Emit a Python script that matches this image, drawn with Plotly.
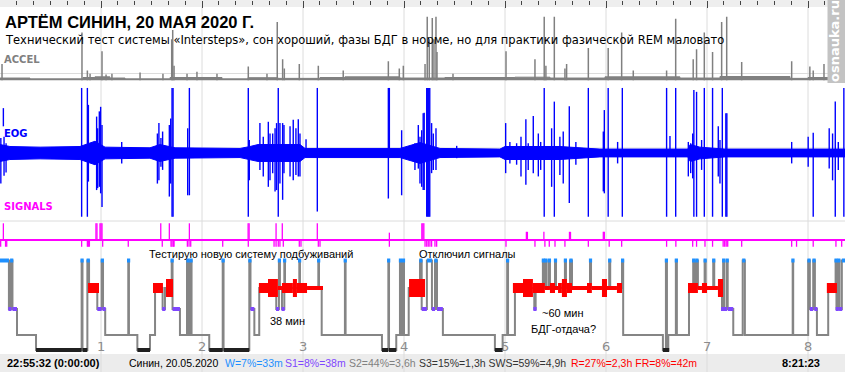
import plotly.graph_objects as go

# ======================= DATA (time in minutes from 22:55:32) =======================
hypnogram = [(0, 'W'), (5.3, 'S1'), (6.5, 'W'), (7.4, 'S1'), (10.1, 'S2'), (21.4, 'S3'), (48.5, 'W'), (49.0, 'S3'),
             (51.9, 'W'), (52.9, 'REM'), (57.8, 'S1'), (60.4, 'W'), (61.2, 'S1'), (62.5, 'S2'), (76.2, 'W'), (76.6, 'S2'),
             (81.6, 'S3'), (89.1, 'S2'), (92.1, 'REM'), (96.6, 'S1'), (98.0, 'REM'), (102.0, 'W'), (102.5, 'S1'),
             (106.9, 'S2'), (111.1, 'W'), (112.3, 'S2'), (113.2, 'W'), (113.8, 'S2'), (124.3, 'S3'), (132.3, 'W'),
             (132.8, 'S3'), (148.1, 'W'), (148.8, 'S1'), (151.1, 'S2'), (154.0, 'REM'), (164.1, 'S1'), (165.7, 'W'),
             (166.3, 'REM'), (167.5, 'S1'), (168.9, 'W'), (169.3, 'REM'), (177.8, 'W'), (178.2, 'REM'), (189.1, 'W'),
             (189.5, 'REM'), (191.1, 'S2'), (204.9, 'W'), (205.3, 'S2'), (226.9, 'S3'), (230.7, 'W'), (231.1, 'S3'),
             (235.4, 'S2'), (237.6, 'W'), (238.2, 'S2'), (239.4, 'W'), (240.0, 'S2'), (242.8, 'REM'), (249.5, 'W'),
             (250.5, 'S1'), (253.6, 'W'), (256.6, 'S1'), (258.4, 'W'), (259.6, 'S1'), (263.1, 'S2'), (294.0, 'S3'),
             (298.6, 'S2'), (301.3, 'W'), (301.8, 'S2'), (305.9, 'REM'), (317.4, 'S1'), (318.2, 'REM'), (322.5, 'W'),
             (323.1, 'REM'), (323.9, 'W'), (324.7, 'REM'), (326.1, 'W'), (326.7, 'REM'), (329.7, 'W'), (330.3, 'REM'),
             (335.6, 'W'), (336.2, 'REM'), (338.6, 'W'), (339.8, 'REM'), (350.5, 'W'), (351.1, 'REM'), (361.9, 'W'),
             (362.5, 'REM'), (369.5, 'W'), (370.2, 'S2'), (393.8, 'S3'), (395.6, 'W'), (396.2, 'S3'), (397.0, 'S2'),
             (401.5, 'W'), (402.1, 'S2'), (409.3, 'REM'), (411.8, 'W'), (412.4, 'REM'), (413.4, 'W'), (414.6, 'REM'),
             (418.6, 'W'), (419.2, 'REM'), (423.7, 'W'), (424.3, 'REM'), (428.9, 'S1'), (429.6, 'W'), (430.2, 'S1'),
             (431.7, 'W'), (432.3, 'S1'), (435.6, 'S2'), (441.2, 'W'), (442.5, 'S2'), (470.9, 'W'), (471.2, 'S2'),
             (480.1, 'W'), (481.1, 'S1'), (483.1, 'W'), (484.1, 'S1'), (485.3, 'S2'), (492.0, 'REM'), (496.4, 'W'),
             (496.9, 'S1'), (497.9, 'W'), (498.7, 'S1'), (500.1, 'W')]
record_end = 502.0

# REM intensity (start, end, level 1..3)
rem_intensity = [(52.3, 58.8, 2), (90.9, 96.8, 2), (98.6, 102.8, 3), (153.8, 159.2, 2), (159.2, 165.1, 3),
                 (165.1, 167.5, 1), (167.5, 174.0, 2), (174.0, 176.4, 3), (176.4, 182.4, 2), (182.4, 191.9, 1),
                 (243.0, 252.5, 3), (304.7, 310.7, 2), (310.7, 316.6, 3), (316.6, 323.7, 2), (323.7, 326.7, 1),
                 (326.7, 329.7, 2), (329.7, 331.5, 1), (331.5, 333.8, 2), (333.8, 336.8, 3), (336.8, 339.8, 2),
                 (339.8, 348.7, 1), (348.7, 351.6, 2), (351.6, 357.6, 1), (357.6, 360.6, 3), (360.6, 366.5, 1),
                 (366.5, 369.5, 2), (408.7, 414.6, 2), (414.6, 417.0, 1), (417.0, 420.0, 2), (420.0, 426.5, 1),
                 (426.5, 429.5, 3), (491.2, 497.2, 2)]

accel_base_t = [0, 17.8, 49.3, 56.4, 65.3, 74.3, 101.0, 131.9, 147.3, 165.1, 190.1, 204.9, 237.6, 264.3, 305.9,
                326.7, 359.4, 403.9, 427.7, 469.3, 480.0, 502.0]
accel_base_v = [3.7, 2.5, 4.5, 5.5, 3.7, 2.5, 4.5, 2.5, 4.2, 3.2, 4.5, 5.5, 3.7, 4.5, 5.0, 3.7, 5.5, 3.7, 6.0, 3.2,
                4.5, 4.5]
accel_spike_t = [1.2, 48.7, 51.9, 53.5, 60.6, 63.0, 66.5, 83.2, 96.8, 102.0, 102.6, 103.4, 111.1, 117.0, 128.9,
                 147.5, 158.6, 164.7, 167.9, 168.9, 177.8, 189.1, 203.9, 230.7, 237.2, 239.6, 252.5, 253.8, 255.0,
                 256.8, 257.8, 259.0, 259.6, 269.1, 300.6, 317.8, 323.3, 324.3, 329.3, 335.6, 336.6, 349.5, 361.3,
                 369.3, 376.2, 396.0, 401.4, 411.8, 413.8, 418.4, 423.3, 428.7, 431.7, 440.6, 470.3, 481.1, 483.1,
                 489.5]
accel_spike_v = [25, 72, 15, 10, 44, 9, 10, 12, 10, 62, 76, 22, 10, 13, 10,
                 21, 10, 88, 32, 18, 25, 22, 15, 29, 18, 22, 25, 96, 62,
                 94, 62, 96, 43, 10, 44, 32, 96, 22, 96, 18, 25, 49, 49,
                 72, 15, 15, 93, 32, 47, 72, 43, 88, 96, 28, 29, 21, 15,
                 25]

eog_env_t = [0, 5.9, 23.8, 47.5, 56.4, 62.4, 89.1, 95.0, 104.0, 142.6, 148.5, 153.3, 178.2, 181.2, 237.6, 249.5,
             261.4, 297.0, 300.0, 332.6, 356.4, 408.7, 410.0, 415.8, 430.7, 502.0]
eog_env_amp = [13, 10, 9, 10, 18, 9, 8, 13, 8, 7, 10, 13, 13, 7, 7, 16, 7, 6, 10, 10, 6, 6, 13, 9, 6, 6]

# EOG spikes: (time, upper, lower)
eog_spikes = [(0.5, 23, -47), (2.0, 69, 41), (2.4, 25, -35), (3.6, 15, -30),
              (48.5, 100, -98), (51.9, 100, -98), (52.5, 74, -44), (57.4, 56, -57), (58.0, 38, -54), (59.0, 64, -52),
              (59.8, 71, -62), (60.6, 43, -83), (72.3, 17, -16), (93.5, 30, -47), (94.4, 46, -42), (95.6, 23, -21),
              (96.6, 33, -26), (100.6, 43, -67), (101.4, 53, -47), (102.2, 100, -98), (102.8, 100, -98),
              (111.5, 38, -65), (112.5, 100, -65), (147.5, 100, -98), (148.1, 20, -42), (154.4, 46, -26),
              (156.4, 25, -36), (159.4, 48, -52), (160.4, 30, -42), (162.0, 30, -31), (163.4, 38, -59),
              (164.3, 46, -57), (165.3, 100, -98), (166.3, 46, -47), (167.9, 46, -72), (168.7, 43, -31),
              (172.3, 41, -36), (174.2, 51, -42), (175.8, 38, -34), (177.2, 52, -36), (178.2, 30, -36),
              (181.8, 21, -3), (188.5, 100, -90), (230.7, 100, -70), (231.3, 100, -6), (238.6, 35, -65),
              (246.5, 15, -26), (248.5, 43, -24),
              (249.5, 25, -47), (250.5, 35, -52), (251.4, 61, -57), (252.0, 62, -57), (253.5, 100, -98),
              (254.1, 100, -98), (254.7, 100, -98), (255.3, 100, -98), (256.4, 46, -31), (257.4, 30, -26),
              (259.0, 38, -26), (271.3, 11, -8), (300.4, 46, -31), (302.9, 17, -16), (306.9, 15, -18),
              (309.5, 25, -36), (312.4, 52, -49), (313.8, 15, -26), (316.8, 57, -31), (319.8, 30, -36),
              (321.2, 17, -26), (323.3, 100, -98), (327.7, 38, -52), (329.3, 79, -98), (332.6, 25, -34),
              (334.6, 33, -47), (338.2, 72, -77), (342.1, 17, -18), (349.5, 100, -98), (358.4, 33, -59),
              (359.0, 66, -62), (361.3, 100, -98), (366.9, 17, -16), (369.7, 100, -98), (396.0, 100, -98),
              (398.0, 26, -6), (401.4, 100, -98), (408.9, 17, -36), (410.3, 15, -31), (411.5, 30, -39),
              (412.2, 97, -98), (413.8, 94, -98), (416.8, 20, -26), (418.4, 100, -98), (423.3, 100, -98),
              (426.7, 41, -36), (427.7, 20, -47), (429.1, 100, -98), (431.2, 61, -98), (431.8, 61, -98),
              (470.3, 17, -16), (480.1, 25, -21), (483.1, 31, -98), (492.6, 38, -24), (494.6, 30, -42),
              (496.2, 79, -98), (498.0, 17, -26), (501.3, 100, -98)]

# cue signals: (time, strength)
signal_cues = [(2.0, 1), (57.0, 1), (57.6, 1), (59.4, 1), (60.0, 1), (60.6, 1), (95.5, 1), (100.6, 1), (112.5, 1),
               (147.4, 1), (148.0, 1), (164.0, 1), (167.7, 1), (188.5, 1), (231.3, 0.45), (250.6, 1), (251.2, 1),
               (251.8, 1), (312.7, 0.5), (313.3, 0.5), (323.1, 0.5), (338.3, 0.5), (338.9, 0.5), (358.4, 0.5),
               (359.0, 0.5)]
# detected-event marks below the signal baseline
signal_marks = [0.4, 3.3, 4.0, 48.5, 51.9, 52.5, 53.1, 61.0, 76.2, 96.4, 101.6, 102.2, 103.0, 103.4, 111.3, 112.3,
                113.3, 132.3, 147.5, 162.8, 164.0, 165.3, 166.3, 168.3, 177.8, 178.8, 189.1, 190.1, 231.3,
                252.5, 253.5, 254.4, 255.4, 256.4, 258.4, 259.4, 300.6, 317.8, 323.7, 326.3, 329.7, 335.6, 349.5,
                361.9, 369.3, 396.0, 401.5, 411.5, 413.8, 418.8, 423.3, 429.6, 430.5, 431.4, 432.3, 440.6, 470.3,
                473.2, 483.1, 496.6, 500.0]

hour_labels = ["1", "2", "3", "4", "5", "6", "7", "8"]

title_text = "АРТЁМ СИНИН, 20 МАЯ 2020 Г."
subtitle_text = "Технический тест системы «Intersteps», сон хороший, фазы БДГ в норме, но для практики фазической REM маловато"
start_label = "22:55:32 (0:00:00)"
end_label = "8:21:23"
stat_texts = ["Синин, 20.05.2020", "W=7%=33m", "S1=8%=38m", "S2=44%=3,6h", "S3=15%=1,3h SWS=59%=4,9h",
              "R=27%=2,3h FR=8%=42m"]
notes = ["Тестирую новую систему подбуживаний", "Отключил сигналы", "38 мин", "~60 мин", "БДГ-отдача?"]
watermark = "osnauka.ru"

# ======================= STYLE / LAYOUT =======================
W, H = 845, 372
PX_PER_MIN = 101 / 60.0


def fy(p):  # pixel row -> paper fraction
    return 1 - p / H


def fx(p):
    return p / W


C_W, C_S1, C_S2, C_S3, C_R = "#1e90ff", "#7f46ff", "#808080", "#202020", "#ff0000"
stage_y = {"W": 0.0, "REM": 1.0, "S1": 1.7636, "S2": 2.709, "S3": 3.2545}
rem_width = {1: 4, 2: 10, 3: 18}
MIN_HALF = 1.6 / PX_PER_MIN

fig = go.Figure()

# ---- hypnogram: grey step line
ht = [t for t, s in hypnogram] + [record_end]
hs = [stage_y[s] for t, s in hypnogram] + [stage_y[hypnogram[-1][1]]]
fig.add_trace(go.Scatter(x=ht, y=hs, mode="lines", line=dict(color="#858585", width=2, shape="hv"),
                         xaxis="x", yaxis="y", hoverinfo="skip"))


def bars(stage, color, width):
    xs, ys = [], []
    for i, (t, s) in enumerate(hypnogram):
        if s != stage:
            continue
        e = hypnogram[i + 1][0] if i + 1 < len(hypnogram) else record_end
        c, h = (t + e) / 2, max((e - t) / 2, MIN_HALF)
        xs += [c - h, c + h, None]
        ys += [stage_y[s], stage_y[s], None]
    fig.add_trace(go.Scatter(x=xs, y=ys, mode="lines", line=dict(color=color, width=width),
                             xaxis="x", yaxis="y", hoverinfo="skip"))


bars("S3", C_S3, 4)
bars("S1", C_S1, 4)
bars("W", C_W, 4)
for lvl in (1, 2, 3):
    xs, ys = [], []
    for a, b, l in rem_intensity:
        if l == lvl:
            xs += [a, b, None]
            ys += [stage_y["REM"], stage_y["REM"], None]
    fig.add_trace(go.Scatter(x=xs, y=ys, mode="lines", line=dict(color=C_R, width=rem_width[lvl]),
                             xaxis="x", yaxis="y", hoverinfo="skip"))

# ---- ACCEL
fig.add_trace(go.Scatter(x=accel_base_t, y=accel_base_v, mode="lines", fill="tozeroy", fillcolor="#808080",
                         line=dict(color="#808080", width=1, shape="hv"), xaxis="x", yaxis="y2", hoverinfo="skip"))
xs, ys = [], []
for t, v in zip(accel_spike_t, accel_spike_v):
    xs += [t, t, None]
    ys += [0, v, None]
fig.add_trace(go.Scatter(x=xs, y=ys, mode="lines", line=dict(color="#808080", width=1.5),
                         xaxis="x", yaxis="y2", hoverinfo="skip"))

# ---- EOG
fig.add_trace(go.Scatter(x=eog_env_t + eog_env_t[::-1], y=eog_env_amp + [-a for a in eog_env_amp[::-1]],
                         mode="lines", fill="toself", fillcolor="#0000ff", line=dict(color="#0000ff", width=1),
                         xaxis="x", yaxis="y3", hoverinfo="skip"))
xs, ys = [], []
for t, hi, lo in eog_spikes:
    xs += [t, t, None]
    ys += [hi, lo, None]
fig.add_trace(go.Scatter(x=xs, y=ys, mode="lines", line=dict(color="#0000ff", width=1.4),
                         xaxis="x", yaxis="y3", hoverinfo="skip"))

# ---- SIGNALS
xs, ys = [], []
for t, v in signal_cues:
    xs += [t, t, None]
    ys += [0, v, None]
for t in signal_marks:
    xs += [t, t, None]
    ys += [0, -0.38, None]
fig.add_trace(go.Scatter(x=xs, y=ys, mode="lines", line=dict(color="#ff00ff", width=1.3),
                         xaxis="x", yaxis="y4", hoverinfo="skip"))

xmax = W / PX_PER_MIN
noax = dict(showgrid=False, zeroline=False, showticklabels=False, showline=False, ticks="", fixedrange=True)
fig.update_layout(
    width=W, height=H, margin=dict(l=0, r=0, t=0, b=0), paper_bgcolor="white", plot_bgcolor="rgba(0,0,0,0)",
    showlegend=False,
    xaxis=dict(range=[0, xmax], domain=[0, 1], anchor="free", position=1, side="top", showgrid=False,
               zeroline=False, showline=False, showticklabels=False, ticks="inside", ticklen=7, tickwidth=1,
               tickcolor="#444", tick0=0, dtick=60, fixedrange=True,
               minor=dict(ticks="inside", ticklen=4, tickwidth=1, tickcolor="#444", tick0=0, dtick=10)),
    yaxis=dict(domain=[fy(356), fy(250)], range=[3.4727, -0.3818], **noax),
    yaxis2=dict(domain=[fy(80.5), fy(14)], range=[0, 100], **noax),
    yaxis3=dict(domain=[fy(220), fy(86)], range=[-103, 103], **noax),
    yaxis4=dict(domain=[fy(248), fy(221)], range=[-0.453, 1.135], showgrid=False, zeroline=True,
                zerolinecolor="#ff00ff", zerolinewidth=2, showticklabels=False, showline=False, fixedrange=True),
)

shapes = []
shapes.append(dict(type="rect", xref="paper", yref="paper", x0=0, x1=1, y0=fy(7), y1=1, fillcolor="#eeeeee",
                   line=dict(width=0), layer="below"))
shapes.append(dict(type="rect", xref="paper", yref="paper", x0=0, x1=1, y0=0, y1=fy(354), fillcolor="#ececec",
                   line=dict(width=0), layer="below"))
for k in range(1, len(hour_labels) + 1):
    shapes.append(dict(type="line", xref="x", yref="paper", x0=60 * k, x1=60 * k, y0=0, y1=fy(7),
                       line=dict(color="#dcdcdc", width=1), layer="below"))
for p in (73.5, 148, 221):
    shapes.append(dict(type="line", xref="paper", yref="paper", x0=0, x1=1, y0=fy(p), y1=fy(p),
                       line=dict(color="#dcdcdc", width=1), layer="below"))
shapes.append(dict(type="rect", xref="paper", yref="paper", x0=fx(827.5), x1=1, y0=fy(83), y1=1,
                   fillcolor="#c3c3c3", line=dict(width=0), layer="above"))
fig.update_layout(shapes=shapes)

FONT = "DejaVu Sans"
FONT2 = "Liberation Sans"
ann = []


def txt(x, y, s, size, color="#000", bold=False, family=FONT, anchor="left", angle=0, xref="paper", yanchor="middle"):
    ann.append(dict(x=x, y=fy(y), xref=xref, yref="paper", text=f"<b>{s}</b>" if bold else s, showarrow=False,
                    xanchor=anchor, yanchor=yanchor, textangle=angle, borderpad=0,
                    font=dict(family=family, size=size, color=color)))


txt(fx(4), 22, title_text, 16.5, bold=True, family=FONT2)
txt(fx(4), 40, subtitle_text, 11.5)
txt(fx(3), 59.5, "ACCEL", 10, color="#808080", bold=True)
txt(fx(3), 133, "EOG", 10, color="#0000ff", bold=True)
txt(fx(3), 207, "SIGNALS", 10, color="#ff00ff", bold=True)
txt(fx(148), 254.5, notes[0], 11, family=FONT2)
txt(fx(418), 254.5, notes[1], 11, family=FONT2)
txt(fx(269), 321, notes[2], 11, family=FONT2)
txt(fx(541), 313, notes[3], 11, family=FONT2)
txt(fx(530), 329, notes[4], 11, family=FONT2)
for k, lab in enumerate(hour_labels, start=1):
    txt(60 * k, 346, lab, 13, color="#8c8c8c", anchor="center", xref="x")
txt(fx(6), 363, start_label, 11, bold=True, family=FONT2)
stat_x = [128, 224, 284, 348, 418, 570]
stat_c = ["#000000", C_W, C_S1, C_S2, "#333333", C_R]
for xx, s, c in zip(stat_x, stat_texts, stat_c):
    txt(fx(xx), 363, s, 10.5, color=c, family=FONT2)
txt(fx(781), 363, end_label, 11, bold=True, family=FONT2)
txt(fx(834), 41, watermark, 13, color="white", bold=True, anchor="center", angle=-90, yanchor="middle")
fig.update_layout(annotations=ann)

fig.write_html("out.html", config={"displayModeBar": False, "staticPlot": True},
               post_script="document.body.style.margin='0';document.body.style.overflow='hidden';")
